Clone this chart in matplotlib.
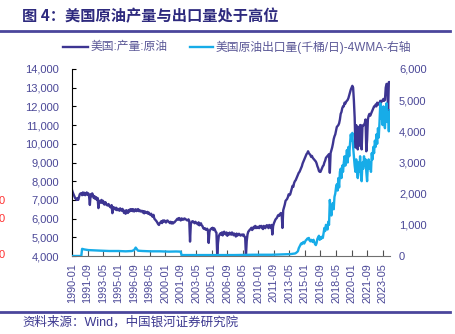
import matplotlib
matplotlib.use('Agg')
import matplotlib.pyplot as plt
from matplotlib.lines import Line2D
from matplotlib.ticker import FuncFormatter, MultipleLocator
import numpy as np
import pandas as pd

plt.rcParams['font.family'] = ['Liberation Sans', 'Noto Sans CJK SC']

title = '图 4：美国原油产量与出口量处于高位'
source = '资料来源：Wind，中国银河证券研究院'
prod_label = '美国:产量:原油'
export_label = '美国原油出口量(千桶/日)-4WMA-右轴'

# US crude output (kb/d), one value per month from 1990-01 to 2024-02
start_month = '1990-01'
prod_vals = [
    7530, 7400, 7300, 7200, 7100, 7050, 7000, 7100, 7000, 7150, 7300, 7350,  # 1990
    7350, 7250, 7400, 7280, 7380, 7250, 7300, 7400, 7280, 7350, 7200, 6730,  # 1991
    7300, 7200, 7350, 7250, 7100, 7200, 7050, 7150, 7000, 7100, 6560, 6950,  # 1992
    6950, 6850, 7000, 6850, 6950, 6780, 6750, 6880, 6780, 6720, 6700, 6780,  # 1993
    6700, 6620, 6600, 6720, 6290, 6620, 6560, 6580, 6480, 6580, 6450, 6520,  # 1994
    6500, 6420, 6550, 6460, 6420, 6520, 6430, 6300, 6420, 6260, 6450, 6380,  # 1995
    6300, 6460, 6380, 6500, 6430, 6500, 6400, 6500, 6380, 6460, 6500, 6400,  # 1996
    6450, 6510, 6400, 6460, 6380, 6400, 6420, 6330, 6400, 6280, 6380, 6330,  # 1997
    6300, 6360, 6260, 6320, 6230, 6200, 6260, 6130, 6100, 6200, 6000, 5950,  # 1998
    5900, 5850, 5780, 5700, 5660, 5760, 5800, 5860, 5760, 5900, 5840, 5900,  # 1999
    5850, 5790, 5880, 5900, 5840, 5820, 5760, 5830, 5740, 5810, 5740, 5790,  # 2000
    5800, 5860, 5900, 5960, 6000, 5940, 6030, 5970, 5900, 6010, 5940, 5990,  # 2001
    5950, 6010, 5970, 5950, 5910, 5900, 5960, 5880, 4770, 5700, 5800, 5860,  # 2002
    5850, 5790, 5750, 5830, 5760, 5750, 5690, 5800, 5640, 5710, 5750, 5640,  # 2003
    5600, 5490, 5450, 5490, 5410, 5400, 5460, 5380, 4700, 5300, 5400, 5460,  # 2004
    5450, 5510, 5390, 5480, 5410, 5300, 5250, 4050, 4700, 5050, 5150, 5210,  # 2005
    5150, 5260, 5100, 5260, 5300, 5190, 5150, 5260, 5080, 5200, 5140, 5250,  # 2006
    5200, 5140, 5260, 5200, 5110, 5200, 5140, 5040, 5200, 5090, 5150, 5190,  # 2007
    5150, 5090, 5130, 5150, 5090, 5150, 5040, 5000, 4000, 4800, 5150, 5300,  # 2008
    5350, 5410, 5440, 5510, 5390, 5460, 5560, 5490, 5610, 5490, 5560, 5500,  # 2009
    5560, 5490, 5610, 5540, 5610, 5490, 5440, 5610, 5540, 5490, 5610, 5650,  # 2010
    5600, 5490, 5660, 5590, 5500, 5660, 5150, 5600, 5750, 5850, 5950, 6000,  # 2011
    6050, 6150, 6200, 6150, 6250, 6300, 6250, 5500, 6450, 6600, 6750, 6950,  # 2012
    7000, 7050, 7150, 7300, 7250, 7300, 7450, 7600, 7750, 7700, 7900, 8000,  # 2013
    8050, 8150, 8250, 8350, 8450, 8500, 8600, 8700, 8800, 8950, 9050, 9150,  # 2014
    9250, 9350, 9450, 9500, 9600, 9500, 9450, 9400, 9300, 9350, 9250, 9200,  # 2015
    9150, 9100, 9050, 8950, 8800, 8700, 8550, 8500, 8500, 8600, 8700, 8800,  # 2016
    8850, 9000, 9100, 9250, 9300, 9350, 9400, 9450, 8450, 9500, 9650, 9800,  # 2017
    10000, 10250, 10400, 10500, 10700, 10900, 10950, 11000, 11100, 11300, 11600, 11700,  # 2018
    11900, 12000, 12000, 12200, 12150, 12250, 12300, 12350, 12450, 12600, 12750, 12900,  # 2019
    13000, 13100, 13000, 12300, 11400, 9800, 11000, 10600, 9700, 10900, 9900, 11000,  # 2020
    11000, 9700, 10900, 11000, 11000, 11100, 11300, 9600, 10200, 11300, 11500, 11600,  # 2021
    11500, 11600, 11700, 11800, 11900, 12000, 12000, 12100, 12000, 12200, 12100, 12100,  # 2022
    12200, 12300, 12200, 12300, 12300, 12400, 12300, 12350, 13000, 13200, 13200, 11700,  # 2023
    13300, 13300,  # 2024
]

# crude exports, 4-week average (kb/d): sparse points before 2014, monthly after
export_early_months = ['1990-01', '1991-01', '1991-02', '1991-05', '1991-10', '1992-06',
                       '1993-03', '1994-01', '1995-01', '1995-10', '1996-06', '1996-09',
                       '1996-11', '1997-02', '1997-08', '1998-06', '1999-06', '2000-06',
                       '2001-03', '2001-09', '2001-10', '2003-01', '2005-06', '2007-06',
                       '2009-06', '2011-06', '2012-06', '2013-06', '2013-12']
export_early_vals = [0, 0, 230, 210, 190, 180,
                     170, 160, 160, 150, 160, 190,
                     270, 170, 160, 150, 150, 140,
                     145, 140, 30, 30, 30, 30,
                     40, 40, 50, 60, 80]
export_recent_start = '2014-01'
export_recent_vals = [
    90, 110, 130, 160, 250, 300, 350, 400, 380, 420, 450, 400,  # 2014
    450, 500, 520, 560, 540, 580, 500, 470, 520, 480, 450, 520,  # 2015
    450, 380, 350, 420, 550, 600, 650, 520, 600, 550, 620, 580,  # 2016
    750, 900, 800, 1000, 950, 850, 1100, 1000, 1800, 1500, 1300, 1600,  # 2017
    1700, 1500, 1900, 2000, 2200, 2300, 2100, 2500, 2200, 2700, 2800, 2500,  # 2018
    2900, 2700, 3000, 3200, 2900, 3100, 3400, 3000, 3500, 3200, 3600, 3900,  # 2019
    3700, 3950, 3500, 3200, 2900, 2700, 3100, 2800, 2500, 3000, 2700, 3200,  # 2020
    2600, 2400, 3000, 2800, 3200, 2900, 3100, 2700, 2400, 2900, 3100, 2800,  # 2021
    3000, 2700, 3300, 3100, 3500, 3300, 3700, 3500, 3900, 3600, 4100, 3800,  # 2022
    4300, 4900, 4400, 4700, 4200, 4800, 4300, 4100, 4700, 4900, 4300, 4600,  # 2023
    4000, 4680,  # 2024
]

PURPLE = '#3D3592'
CYAN = '#17ACE8'
TICK_TEXT = '#4A4797'
RULE = '#4B469C'

base = pd.Period(start_month, 'M')


def month_index(m):
    return (pd.Period(m, 'M') - base).n


prod_x = np.arange(len(prod_vals))
export_x = [month_index(m) for m in export_early_months]
r0 = month_index(export_recent_start)
export_x += list(r0 + np.arange(len(export_recent_vals)))
export_y = export_early_vals + export_recent_vals

W, H = 455, 334
fig = plt.figure(figsize=(W / 100, H / 100), dpi=100)
ax = fig.add_axes([72 / W, 1 - 256 / H, 318 / W, 187 / H])

ax.plot(prod_x, prod_vals, color=PURPLE, lw=1.7)
ax.set_xlim(0, 409.5)
ax.set_ylim(4000, 14000)
ax.yaxis.set_major_locator(MultipleLocator(1000))
ax.yaxis.set_major_formatter(FuncFormatter(lambda v, _: f'{v:,.0f}'))

ticks = np.arange(0, 401, 20)
ax.set_xticks(ticks)
ax.set_xticklabels([str(base + int(t)) for t in ticks], rotation=90)

for s in ['top', 'right']:
    ax.spines[s].set_visible(False)
ax.spines['left'].set_color('black')
ax.spines['bottom'].set_color('#707070')
ax.tick_params(axis='y', direction='in', length=3, color='black',
               labelcolor=TICK_TEXT, labelsize=8, pad=9.4)
ax.tick_params(axis='x', direction='in', length=4, color='#505050',
               labelcolor=TICK_TEXT, labelsize=7.8, pad=5)

ax2 = ax.twinx()
ax2.plot(export_x, export_y, color=CYAN, lw=1.7)
ax2.set_ylim(0, 6000)
ax2.yaxis.set_major_locator(MultipleLocator(1000))
ax2.yaxis.set_major_formatter(FuncFormatter(lambda v, _: f'{v:,.0f}'))
for s in ax2.spines.values():
    s.set_visible(False)
ax2.tick_params(axis='y', length=0, labelcolor=TICK_TEXT, labelsize=8, pad=6.5)

# legend drawn by hand above the plot
ly = 1 - 47 / H
fig.add_artist(Line2D([63 / W, 88 / W], [ly, ly], color=PURPLE, lw=1.7))
fig.text(91 / W, ly, prod_label, va='center', ha='left', fontsize=8.5, color='#5B5897')
fig.add_artist(Line2D([190 / W, 213 / W], [ly, ly], color=CYAN, lw=1.7))
fig.text(216 / W, ly, export_label, va='center', ha='left', fontsize=8.5, color='#5B5897')

# title, rules and source line
fig.text(22 / W, 1 - 16 / H, title, fontsize=11, fontweight='bold', color='#2E2A7E',
         va='center', ha='left', family=['Noto Sans CJK SC'])
fig.add_artist(Line2D([0, 450 / W], [1 - 31 / H] * 2, color=RULE, lw=2))
fig.add_artist(Line2D([0, 450 / W], [1 - 312 / H] * 2, color=RULE, lw=2))
fig.text(22 / W, 1 - 322 / H, source, fontsize=9, color='#3C3890', va='center', ha='left')

# clipped labels from the neighbouring panel on the left edge
for yy in [201, 219, 255]:
    fig.text(5 / W, 1 - yy / H, '0', fontsize=8, color='#FF3030', va='center', ha='right')

fig.savefig('out.png', dpi=100)
